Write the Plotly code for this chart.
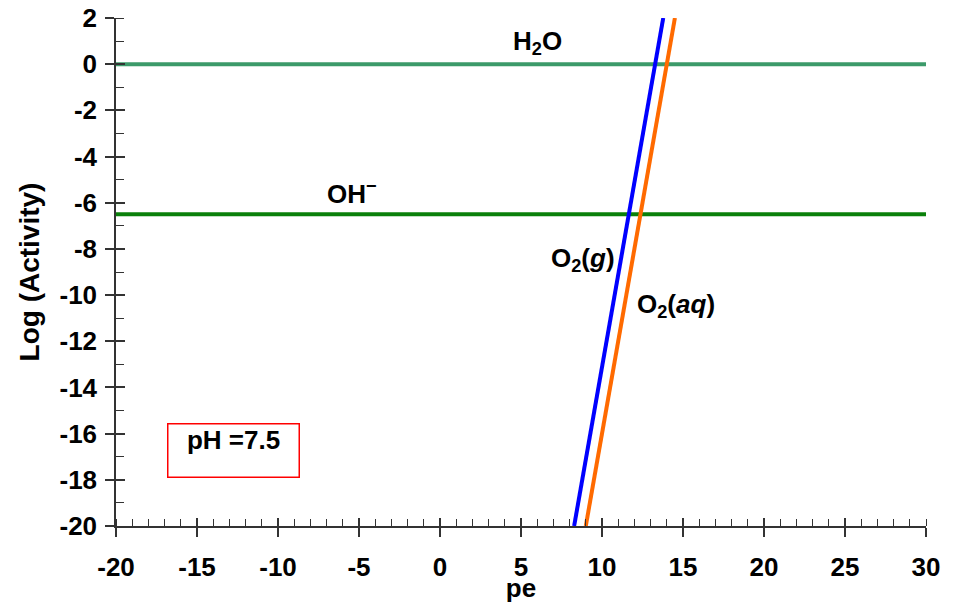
import plotly.graph_objects as go

# Data
pe_range = [-20, 30]
logact_range = [-20, 2]
h2o_logact = [0, 0]
oh_logact = [-6.5, -6.5]
o2g_pe = [8.28, 13.78]
o2aq_pe = [9.0, 14.5]
o2_logact = [-20, 2]
ph_value = 7.5
x_tickvals = [-20, -15, -10, -5, 0, 5, 10, 15, 20, 25, 30]
x_ticktext = ["-20", "-15", "-10", "-5", "0", "5", "10", "15", "20", "25", "30"]
y_tickvals = [2, 0, -2, -4, -6, -8, -10, -12, -14, -16, -18, -20]
y_ticktext = ["2", "0", "-2", "-4", "-6", "-8", "-10", "-12", "-14", "-16", "-18", "-20"]

FONT = "Liberation Sans, Arial, sans-serif"
AX = "#333333"

fig = go.Figure()
fig.add_trace(go.Scatter(x=pe_range, y=h2o_logact, mode="lines",
                         line=dict(color="#3c9a6a", width=4), showlegend=False))
fig.add_trace(go.Scatter(x=pe_range, y=oh_logact, mode="lines",
                         line=dict(color="#0a800a", width=4), showlegend=False))
fig.add_trace(go.Scatter(x=o2g_pe, y=o2_logact, mode="lines",
                         line=dict(color="#0000ff", width=4), showlegend=False))
fig.add_trace(go.Scatter(x=o2aq_pe, y=o2_logact, mode="lines",
                         line=dict(color="#ff6a00", width=4), showlegend=False))
# invisible trace for overlay axes (inner half of crossing ticks)
fig.add_trace(go.Scatter(x=pe_range, y=logact_range, mode="markers",
                         marker=dict(opacity=0), xaxis="x2", yaxis="y2",
                         showlegend=False, hoverinfo="skip"))

axis_common = dict(showgrid=False, zeroline=False, showline=True, automargin=False,
                   linecolor=AX, linewidth=1.5, ticks="outside",
                   tickcolor=AX, tickwidth=1.5, ticklen=9, ticklabeloverflow="allow",
                   tickfont=dict(family=FONT, size=26, color="black", weight="bold"))

fig.update_layout(
    width=950, height=595,
    plot_bgcolor="white", paper_bgcolor="white",
    margin=dict(l=108, r=32, t=10, b=77, pad=0),
    xaxis=dict(range=pe_range, tickmode="array", tickvals=x_tickvals, ticktext=x_ticktext,
               ticklabelstandoff=8,
               minor=dict(dtick=1, tick0=0, ticks="inside", ticklen=7, tickcolor=AX, tickwidth=1.2),
               title=dict(text="<b>pe</b>", font=dict(family=FONT, size=26, color="black"), standoff=0),
               **axis_common),
    yaxis=dict(range=logact_range, tickmode="array", tickvals=y_tickvals, ticktext=y_ticktext,
               ticklabelstandoff=3,
               minor=dict(dtick=1, tick0=1, ticks="inside", ticklen=8, tickcolor=AX, tickwidth=1.2),
               title=dict(text="<b>Log (Activity)</b>", font=dict(family=FONT, size=28, color="black"), standoff=12),
               **axis_common),
    xaxis2=dict(range=pe_range, tickmode="array", tickvals=x_tickvals, overlaying="x", side="bottom",
                showgrid=False, zeroline=False, showline=False, ticks="inside", automargin=False,
                ticklen=8, tickwidth=1.5, tickcolor=AX, showticklabels=False),
    yaxis2=dict(range=logact_range, tickmode="array", tickvals=y_tickvals, overlaying="y", side="left",
                showgrid=False, zeroline=False, showline=False, ticks="inside", automargin=False,
                ticklen=9, tickwidth=1.5, tickcolor=AX, showticklabels=False),
)

lab = dict(family=FONT, size=26, color="black")
fig.add_annotation(x=5.99, y=0.96, text="<b>H<sub>2</sub>O</b>", showarrow=False, font=lab)
fig.add_annotation(x=-5.43, y=-5.54, text="<b>OH<sup>−</sup></b>", showarrow=False, font=lab)
fig.add_annotation(x=8.83, y=-8.48, text="<b>O<sub>2</sub>(<i>g</i>)</b>", showarrow=False, font=lab)
fig.add_annotation(x=14.57, y=-10.43, text="<b>O<sub>2</sub>(<i>aq</i>)</b>", showarrow=False, font=lab)
fig.add_annotation(x=-12.72, y=-16.75, text=f"<b>pH ={ph_value}</b>", showarrow=False,
                   font=dict(family=FONT, size=26, color="black"),
                   bordercolor="#ff0000", borderwidth=1.5, borderpad=0,
                   width=130, height=52, valign="top")

fig.write_html("out.html")
